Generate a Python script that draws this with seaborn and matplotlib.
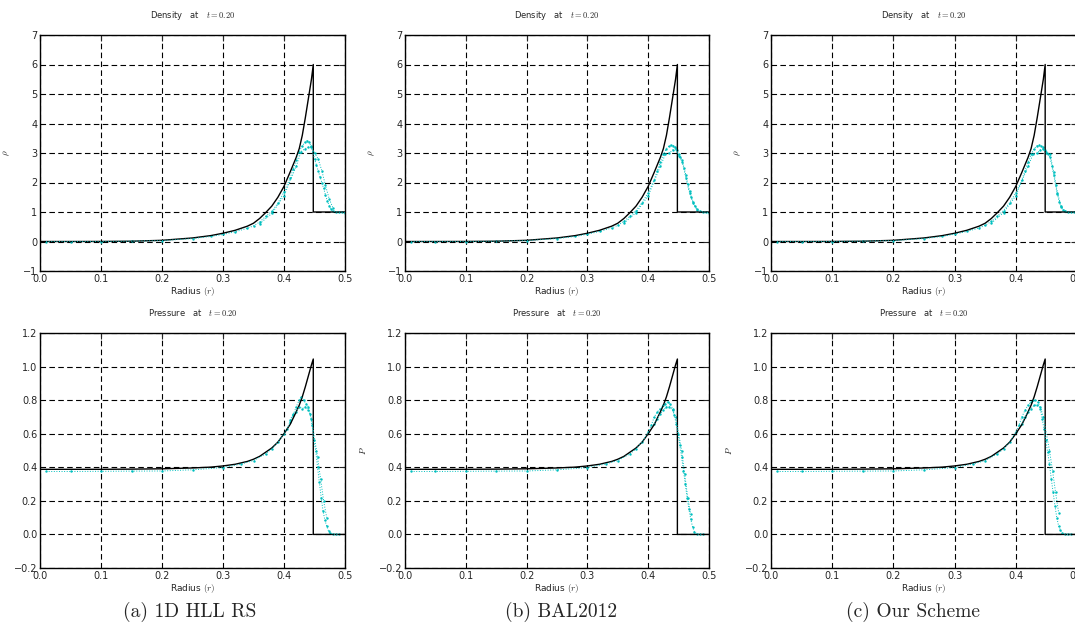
import matplotlib
matplotlib.use("Agg")
import matplotlib.pyplot as plt
import seaborn as sns

# --- exact (black) solution ---
exact_r = [0.0, 0.05, 0.1, 0.15, 0.2, 0.25, 0.28, 0.3, 0.32, 0.34, 0.35, 0.36, 0.37,
           0.38, 0.39, 0.40, 0.41, 0.42, 0.425, 0.43, 0.435, 0.44, 0.445, 0.448, 0.448, 0.5]
exact_rho = [0.0, 0.0, 0.002, 0.01, 0.04, 0.12, 0.2, 0.28, 0.38, 0.52, 0.62, 0.78, 0.98,
             1.2, 1.5, 1.87, 2.35, 2.85, 3.15, 3.6, 4.2, 4.85, 5.5, 6.0, 1.0, 1.0]
exact_p = [0.388, 0.388, 0.388, 0.389, 0.391, 0.396, 0.401, 0.408, 0.418, 0.435, 0.448, 0.465, 0.49,
           0.515, 0.55, 0.6, 0.655, 0.73, 0.77, 0.82, 0.88, 0.945, 1.01, 1.045, 0.0, 0.0]

# --- numerical (cyan) results, main branch + scatter branch per scheme ---
rho_r = [0.01, 0.05, 0.1, 0.15, 0.2, 0.25, 0.28, 0.3, 0.32, 0.34, 0.35, 0.36, 0.37, 0.38,
         0.39, 0.40, 0.41, 0.415, 0.42, 0.425, 0.43, 0.435, 0.438, 0.441, 0.444, 0.447,
         0.45, 0.453, 0.456, 0.459, 0.462, 0.465, 0.468, 0.471, 0.474, 0.477, 0.48, 0.485,
         0.49, 0.495, 0.5]
rho_hll = [0.0, 0.0, 0.0, 0.01, 0.03, 0.1, 0.17, 0.24, 0.33, 0.45, 0.53, 0.66, 0.85, 1.02,
           1.3, 1.68, 2.15, 2.45, 2.75, 3.05, 3.25, 3.38, 3.42, 3.38, 3.25, 3.05,
           2.8, 2.6, 2.4, 2.2, 2.0, 1.8, 1.58, 1.38, 1.22, 1.1, 1.04, 1.01, 1.0, 0.99, 0.98]
rho_bal = [0.0, 0.0, 0.0, 0.01, 0.03, 0.1, 0.17, 0.25, 0.34, 0.46, 0.55, 0.68, 0.86, 1.05,
           1.32, 1.65, 2.1, 2.4, 2.7, 2.95, 3.15, 3.25, 3.27, 3.25, 3.2, 3.1,
           2.95, 2.85, 2.75, 2.5, 2.25, 1.95, 1.7, 1.5, 1.33, 1.2, 1.1, 1.03, 1.0, 0.99, 0.98]
rho_our = [0.0, 0.0, 0.0, 0.01, 0.03, 0.1, 0.17, 0.25, 0.34, 0.46, 0.55, 0.68, 0.86, 1.05,
           1.32, 1.65, 2.1, 2.4, 2.7, 2.95, 3.15, 3.25, 3.27, 3.25, 3.2, 3.1,
           3.0, 2.95, 2.85, 2.55, 2.25, 1.9, 1.6, 1.35, 1.16, 1.07, 1.02, 1.0, 0.99, 0.99, 0.98]
rho2_r = [0.36, 0.38, 0.40, 0.42, 0.428, 0.435, 0.44, 0.445, 0.45, 0.456, 0.462, 0.468, 0.474, 0.48]
rho2_hll = [0.6, 0.95, 1.55, 2.55, 3.05, 3.15, 3.2, 3.2, 3.0, 2.8, 2.4, 1.9, 1.45, 1.15]
rho2_bal = [0.62, 0.98, 1.55, 2.55, 2.95, 3.0, 3.1, 3.15, 2.9, 2.7, 2.15, 1.65, 1.3, 1.08]
rho2_our = [0.62, 0.98, 1.55, 2.55, 2.95, 3.0, 3.1, 3.15, 3.05, 2.95, 2.35, 1.65, 1.2, 1.04]

p_r = [0.01, 0.05, 0.1, 0.15, 0.2, 0.25, 0.3, 0.33, 0.35, 0.37, 0.38, 0.39, 0.40, 0.405,
       0.41, 0.415, 0.42, 0.425, 0.428, 0.432, 0.436, 0.44, 0.443, 0.446, 0.449, 0.452,
       0.455, 0.458, 0.461, 0.464, 0.467, 0.47, 0.473, 0.476, 0.48, 0.485, 0.49]
p_hll = [0.375, 0.375, 0.376, 0.377, 0.378, 0.385, 0.398, 0.42, 0.44, 0.48, 0.51, 0.55, 0.6, 0.63,
         0.67, 0.71, 0.76, 0.8, 0.82, 0.8, 0.78, 0.76, 0.72, 0.65, 0.56, 0.5,
         0.4, 0.31, 0.22, 0.14, 0.085, 0.05, 0.02, 0.008, 0.002, 0.0, 0.0]
p_bal = [0.375, 0.375, 0.376, 0.377, 0.378, 0.385, 0.398, 0.42, 0.44, 0.48, 0.51, 0.55, 0.61, 0.65,
         0.7, 0.73, 0.75, 0.77, 0.78, 0.79, 0.78, 0.75, 0.71, 0.66, 0.6, 0.53,
         0.46, 0.38, 0.3, 0.22, 0.15, 0.09, 0.045, 0.015, 0.003, 0.0, 0.0]
p_our = [0.375, 0.375, 0.376, 0.377, 0.378, 0.385, 0.398, 0.42, 0.44, 0.48, 0.51, 0.55, 0.61, 0.65,
         0.7, 0.74, 0.77, 0.79, 0.8, 0.8, 0.79, 0.75, 0.69, 0.63, 0.56, 0.49,
         0.42, 0.33, 0.25, 0.17, 0.1, 0.05, 0.025, 0.008, 0.002, 0.0, 0.0]
p2_r = [0.41, 0.415, 0.42, 0.425, 0.43, 0.435, 0.44, 0.445, 0.455, 0.46, 0.465, 0.47]
p2_hll = [0.68, 0.72, 0.73, 0.76, 0.75, 0.76, 0.74, 0.69, 0.46, 0.33, 0.2, 0.1]
p2_bal = [0.66, 0.69, 0.72, 0.74, 0.76, 0.76, 0.74, 0.7, 0.5, 0.36, 0.22, 0.12]
p2_our = [0.66, 0.7, 0.73, 0.75, 0.77, 0.77, 0.76, 0.7, 0.5, 0.38, 0.25, 0.13]

captions = ["(a) 1D HLL RS", "(b) BAL2012", "(c) Our Scheme"]
rho_runs = [(rho_hll, rho2_hll), (rho_bal, rho2_bal), (rho_our, rho2_our)]
p_runs = [(p_hll, p2_hll), (p_bal, p2_bal), (p_our, p2_our)]

sns.set_style("white")
plt.rcParams["font.family"] = ["DejaVu Sans"]
plt.rcParams["mathtext.fontset"] = "cm"

W, H = 1075, 637
fig = plt.figure(figsize=(W / 100, H / 100), dpi=100)


# axes placed in pixel coords of the original
def pix_axes(x0, y0, x1, y1):
    return fig.add_axes([x0 / W, 1 - y1 / H, (x1 - x0) / W, (y1 - y0) / H])


def draw_panel(ax, exact, main, second, sec_r, num_r, title, ylab, ylim, yticks):
    sns.lineplot(x=exact_r, y=exact, ax=ax, color="k", lw=1.0, sort=False, estimator=None)
    for rr, vv in [(num_r, main), (sec_r, second)]:
        sns.lineplot(x=rr, y=vv, ax=ax, color="c", lw=0.7, ls=":", sort=False, estimator=None)
        sns.scatterplot(x=rr, y=vv, ax=ax, color="c", s=3, linewidth=0)
    ax.set_xlim(0, 0.5)
    ax.set_ylim(*ylim)
    ax.set_xticks([0.0, 0.1, 0.2, 0.3, 0.4, 0.5])
    ax.set_yticks(yticks)
    ax.grid(True, color="k", ls="--", lw=0.8, dashes=(5, 3))
    ax.tick_params(direction="in", top=True, right=True, length=4, width=0.8,
                   labelsize=7, pad=2)
    for s in ax.spines.values():
        s.set_color("k")
        s.set_linewidth(1.0)
    ax.set_title(title, fontsize=6, pad=12)
    ax.set_xlabel(r"Radius $(r)$", fontsize=6.5, labelpad=1)
    ax.set_ylabel(ylab, fontsize=6.5, labelpad=8)


cols = [(40, 345), (405, 709), (771, 1077)]
cap_x = [190, 561, 913]
for i, (x0, x1) in enumerate(cols):
    ax = pix_axes(x0, 35, x1, 271)
    draw_panel(ax, exact_rho, rho_runs[i][0], rho_runs[i][1], rho2_r, rho_r,
               r"Density   at   $t=0.20$", r"$\rho$", (-1, 7), range(-1, 8))
    ax = pix_axes(x0, 333, x1, 568)
    draw_panel(ax, exact_p, p_runs[i][0], p_runs[i][1], p2_r, p_r,
               r"Pressure   at   $t=0.20$", r"$P$", (-0.2, 1.2),
               [-0.2, 0.0, 0.2, 0.4, 0.6, 0.8, 1.0, 1.2])
    fig.text(cap_x[i] / W, 1 - 612 / H, captions[i], family="cmr10", fontsize=14,
             ha="center", va="center")

fig.savefig("out.png", dpi=100)
